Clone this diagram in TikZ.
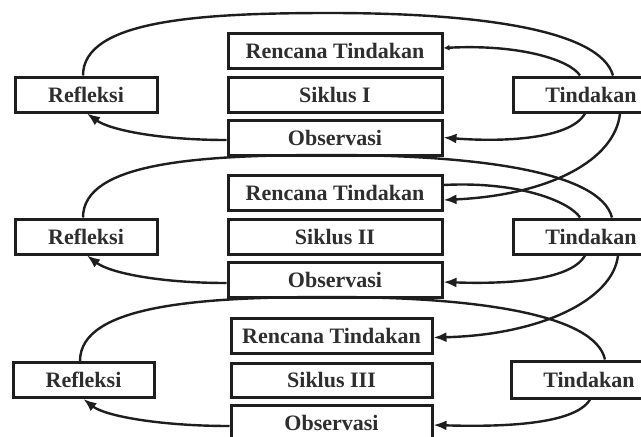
\documentclass[tikz,border=0pt]{standalone}
\usepackage{fontspec}
\setmainfont{Liberation Serif}
\usetikzlibrary{arrows.meta,calc}
\definecolor{ink}{HTML}{1E1E1E}
\definecolor{txt}{HTML}{2E2E2E}
\tikzset{
  box/.style={draw=ink, line width=3pt, fill=white, inner sep=0pt, minimum height=35pt,
    text=txt, font=\bfseries\fontsize{22}{26}\selectfont},
  midbox/.style={box, minimum width=214pt},
  sidebox/.style={box, minimum width=142pt},
  tinbox/.style={box, minimum width=156pt},
  conn/.style={draw=ink, line width=2.4pt},
  arr/.style={conn, -{Latex[length=13pt,width=10pt]}},
  smallarr/.style={conn, {Latex[length=6pt,width=6pt]}-},
}
\begin{document}
\begin{tikzpicture}[x=1pt,y=-1pt]
\useasboundingbox (0,0) rectangle (641,437);
\fill[white] (0,0) rectangle (641,437);
% ---- nodes, cycle I
\node[midbox] (ren1) at (335,50.5) {Rencana Tindakan};
\node[midbox] (sik1) at (335,94.5) {Siklus I};
\node[midbox] (obs1) at (335,137.5) {Observasi};
\node[sidebox] (refl1) at (86,94.5) {Refleksi};
\node[tinbox] (tin1) at (591,94.5) {Tindakan};
% ---- cycle II
\node[midbox] (ren2) at (335,192.5) {Rencana Tindakan};
\node[midbox] (sik2) at (335,236.5) {Siklus II};
\node[midbox] (obs2) at (335,279.5) {Observasi};
\node[sidebox] (refl2) at (86,236.5) {Refleksi};
\node[tinbox] (tin2) at (591,236.5) {Tindakan};
% ---- cycle III
\node[midbox, minimum width=201pt] (ren3) at (331.5,335.5) {Rencana Tindakan};
\node[midbox, minimum width=201pt, minimum height=34pt] (sik3) at (331.5,380) {Siklus III};
\node[midbox, minimum width=201pt] (obs3) at (331.5,422.5) {Observasi};
\node[sidebox, minimum width=141pt] (refl3) at (83.5,380) {Refleksi};
\node[tinbox, minimum height=37pt] (tin3) at (589,379.5) {Tindakan};

% ---- connectors, cycle I
\draw[conn] ($(refl1.north)+(-3,0)$) .. controls (83,20) and (200,13) .. (330,13)
  .. controls (480,13) and (600,30) .. ($(tin1.north)+(22,0)$);
\draw[smallarr] ($(ren1.east)+(0,-2.5)$) .. controls (520,44) and (570,60) .. ($(tin1.north)+(-11,0)$);
\draw[arr] ($(tin1.south)+(-6,0)$) .. controls (570,140) and (500,142) .. (obs1.east);
\draw[arr] ($(obs1.west)+(0,2.5)$) .. controls (160,140) and (110,130) .. ($(refl1.south)+(1,0)$);
\draw[arr] ($(tin1.south)+(29,0)$) .. controls (615,160) and (550,195) .. ($(ren2.east)+(0,7.5)$);
% ---- connectors, cycle II
\draw[conn] ($(refl2.north)+(-3,0)$) .. controls (83,162) and (200,155) .. (330,155)
  .. controls (480,155) and (600,172) .. ($(tin2.north)+(21,0)$);
\draw[conn] ($(ren2.east)+(0,-7.5)$) .. controls (520,181) and (570,202) .. ($(tin2.north)+(-11,0)$);
\draw[arr] ($(tin2.south)+(-6,0)$) .. controls (570,282) and (500,284) .. ($(obs2.east)+(0,2.5)$);
\draw[arr] ($(obs2.west)+(0,3.5)$) .. controls (160,283) and (110,273) .. ($(refl2.south)+(1,0)$);
\draw[arr] ($(tin2.south)+(27,0)$) .. controls (613,300) and (540,335) .. ($(ren3.east)+(0,2)$);
% ---- connectors, cycle III
\draw[conn] ($(refl3.north)+(-3.5,0)$) .. controls (80,305) and (200,297) .. (330,297)
  .. controls (480,297) and (595,315) .. ($(tin3.north)+(16,0)$);
\draw[arr] ($(tin3.south)+(1,0)$) .. controls (575,425) and (500,427) .. ($(obs3.east)+(0,2.5)$);
\draw[arr] ($(obs3.west)+(0,3.5)$) .. controls (160,426) and (105,416) .. (refl3.south);
\end{tikzpicture}
\end{document}
